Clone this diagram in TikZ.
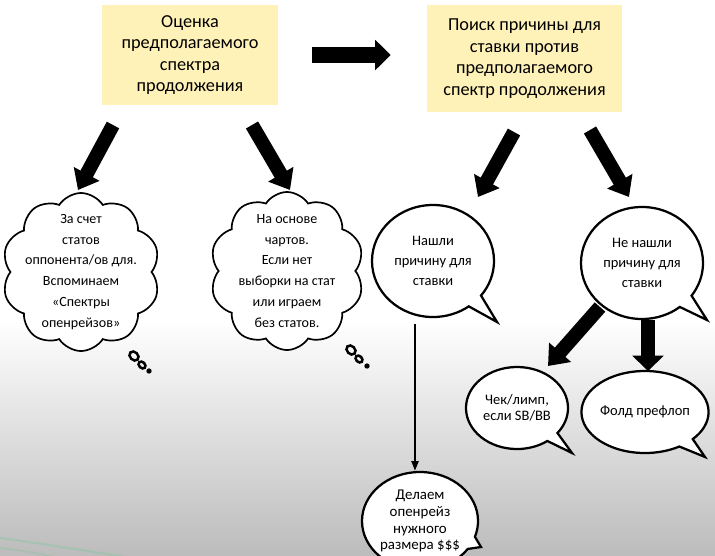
\documentclass[tikz,border=0pt]{standalone}
\usepackage{fontspec}
\setmainfont{Carlito}
\usetikzlibrary{arrows.meta,positioning,shapes.symbols,shapes.callouts,calc}
\definecolor{paleyellow}{RGB}{255,242,184}
\definecolor{bggray}{RGB}{188,188,188}
\definecolor{streakgreen}{RGB}{120,200,150}
\tikzset{
  box/.style={rectangle, fill=paleyellow, align=center, inner sep=0pt,
              font=\fontsize{13}{15.3}\selectfont},
  thought/.style={cloud, cloud puffs=10, cloud puff arc=115, cloud ignores aspect,
                  draw, line width=1.2pt, fill=white, inner sep=0pt},
  thoughttext/.style={align=center, inner sep=0pt, font=\fontsize{10}{14.9}\selectfont},
  ring/.style={line width=1.8pt},
  speech/.style={ellipse callout, draw, line width=1.6pt, fill=white, align=center,
                 inner sep=0pt, callout pointer arc=16, font=\fontsize{10.3}{14.5}\selectfont},
  speechsmall/.style={speech, font=\fontsize{10.3}{11.7}\selectfont},
  bigarrow/.style={line width=10pt, -{Triangle[length=13pt, width=20pt]}},
  widearrow/.style={line width=11pt, -{Triangle[length=11pt, width=21pt]}},
  thinarrow/.style={line width=1.5pt, -{Triangle[length=7pt, width=5pt]}},
}

\begin{document}
\begin{tikzpicture}[x=0.025cm, y=-0.025cm]
\useasboundingbox (0,0) rectangle (715,555);
\clip (0,0) rectangle (715,555);
% background
\fill[white] (0,0) rectangle (715,555);
\shade[top color=white, bottom color=bggray] (0,320) rectangle (715,555);
\draw[streakgreen, opacity=.35, line width=1.5pt] (0,538) .. controls (50,545) .. (125,557);
\draw[streakgreen, opacity=.3, line width=1.2pt] (0,548) .. controls (25,551) .. (55,557);

% top boxes
\node[box, minimum width=4.4cm, minimum height=2.5cm] (estimate) at (190,55)
  {Оценка\\предполагаемого\\спектра\\продолжения};
\node[box, minimum width=4.875cm, minimum height=2.675cm] (search) at (524.5,58.5)
  {Поиск причины для\\ставки против\\предполагаемого\\спектр продолжения};
\draw[widearrow] ([xshift=0.85cm]estimate.east) -- ([xshift=-0.9cm]search.west |- estimate.east);

% thought clouds
\node[thought, minimum width=3.95cm, minimum height=3.95cm] (stats) at (81,272) {};
\node[thoughttext] (statstext) at (stats.center)
  {За счет\\статов\\оппонента/ов для.\\Вспоминаем\\«Спектры\\опенрейзов»};
\draw[ring] (134,356) circle[x radius=3.6pt, y radius=2.8pt, rotate=-45];
\draw[ring] (142,365) circle[x radius=2.8pt, y radius=2.1pt, rotate=-45];
\fill (149,371) circle[radius=1.9pt];

\node[thought, minimum width=3.85cm, minimum height=3.95cm] (charts) at (287,271) {};
\node[thoughttext] (chartstext) at (charts.center)
  {На основе\\чартов.\\Если нет\\выборки на стат\\или играем\\без статов.};
\draw[ring] (351,350) circle[x radius=3.6pt, y radius=2.8pt, rotate=-45];
\draw[ring] (359,359) circle[x radius=2.8pt, y radius=2.1pt, rotate=-45];
\fill (367,366) circle[radius=1.9pt];

% speech bubbles
\node[speech, minimum width=3.05cm, minimum height=2.8cm,
      callout absolute pointer={(497,322)}] (found) at (433,261)
  {Нашли\\причину для\\ставки};
\node[speech, minimum width=3.05cm, minimum height=2.8cm,
      callout absolute pointer={(707,320)}] (notfound) at (642,263)
  {Не нашли\\причину для\\ставки};
\node[speechsmall, minimum width=2.55cm, minimum height=2.05cm,
      callout absolute pointer={(572,453)}] (check) at (517,408)
  {Чек/лимп,\\если SB/BB};
\node[speechsmall, minimum width=2.8cm, minimum height=2.05cm,
      callout absolute pointer={(705,457)}] (fold) at (645,412)
  {Фолд префлоп};
\node[speechsmall, font=\fontsize{10.6}{12}\selectfont, minimum width=2.9cm, minimum height=2.45cm,
      callout absolute pointer={(481,547)}] (raise) at (420,521)
  {Делаем\\опенрейз\\нужного\\размера \$\$\$};

% arrow ends
\coordinate (a1s) at (113,125);
\coordinate (a1e) at (78,190);
\coordinate (a2s) at (252,125);
\coordinate (a2e) at (290,190);
\coordinate (a3s) at (514,132);
\coordinate (a3e) at (478,197);
\coordinate (a4s) at (590,130);
\coordinate (a4e) at (629,197);
\coordinate (a5s) at (600,307);
\coordinate (a5e) at (548,366);
\coordinate (a6s) at (648,320);
\coordinate (a6e) at (648,371);
\coordinate (a7s) at (415,324);

\draw[bigarrow] (a1s) -- (a1e);
\draw[bigarrow] (a2s) -- (a2e);
\draw[bigarrow] (a3s) -- (a3e);
\draw[bigarrow] (a4s) -- (a4e);
\draw[bigarrow] (a5s) -- (a5e);
\draw[line width=10pt, -{Triangle[length=11pt, width=22pt]}] (a6s) -- (a6e);
\draw[thinarrow] (a7s) -- (raise.north -| a7s);
\end{tikzpicture}
\end{document}
